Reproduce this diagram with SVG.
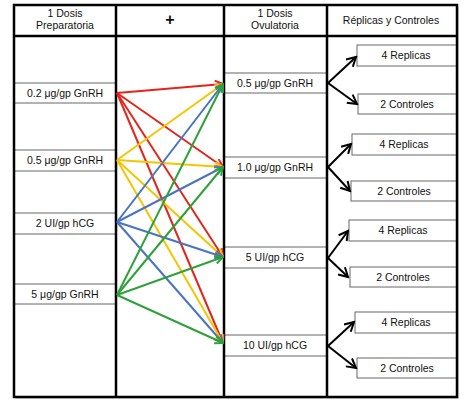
<svg xmlns="http://www.w3.org/2000/svg" width="470" height="406" viewBox="0 0 470 406">
<style>
text{font-family:"Liberation Sans",Arial,sans-serif;font-size:10.5px;fill:#111;text-anchor:middle}
.box{fill:#fff;stroke:#666;stroke-width:1}
.frame{fill:none;stroke:#000;stroke-width:2.5}
.c{fill:none;stroke-width:2}
.k{fill:none;stroke:#000;stroke-width:2}
</style>
<defs>
<marker id="mr" markerWidth="10" markerHeight="10" refX="9" refY="5" orient="auto" markerUnits="userSpaceOnUse"><path d="M1,1 L9,5 L1,9" fill="none" stroke="#e3261c" stroke-width="2"/></marker>
<marker id="my" markerWidth="10" markerHeight="10" refX="9" refY="5" orient="auto" markerUnits="userSpaceOnUse"><path d="M1,1 L9,5 L1,9" fill="none" stroke="#f5c500" stroke-width="2"/></marker>
<marker id="mb" markerWidth="10" markerHeight="10" refX="9" refY="5" orient="auto" markerUnits="userSpaceOnUse"><path d="M1,1 L9,5 L1,9" fill="none" stroke="#4a73c0" stroke-width="2"/></marker>
<marker id="mg" markerWidth="10" markerHeight="10" refX="9" refY="5" orient="auto" markerUnits="userSpaceOnUse"><path d="M1,1 L9,5 L1,9" fill="none" stroke="#2ea23a" stroke-width="2"/></marker>
<marker id="mk" markerWidth="12" markerHeight="12" refX="10" refY="6" orient="auto" markerUnits="userSpaceOnUse"><path d="M1,1 L10,6 L1,11" fill="none" stroke="#000" stroke-width="2"/></marker>
</defs>
<rect x="16" y="7" width="443" height="392" fill="#bbb" opacity="0.5"/>
<rect x="14" y="5" width="443" height="392" fill="#fff"/>

<g id="header">
<text x="65" y="17">1 Dosis</text>
<text x="65" y="29">Preparatoria</text>
<text x="170" y="25" style="font-size:16px;font-weight:bold">+</text>
<text x="275" y="17">1 Dosis</text>
<text x="275" y="29">Ovulatoria</text>
<text x="391" y="24">Réplicas y Controles</text>
</g>

<g id="prep-02"><rect class="box" x="14" y="83" width="102" height="20"/><text x="65" y="97">0.2 μg/gp GnRH</text></g>
<g id="prep-05"><rect class="box" x="14" y="150" width="102" height="21"/><text x="65" y="164">0.5 μg/gp GnRH</text></g>
<g id="prep-2ui"><rect class="box" x="14" y="213" width="102" height="21"/><text x="65" y="227">2 UI/gp hCG</text></g>
<g id="prep-5"><rect class="box" x="14" y="284" width="102" height="20"/><text x="65" y="298">5 μg/gp GnRH</text></g>

<g id="ovu-05"><rect class="box" x="224" y="73" width="103" height="20"/><text x="275" y="87">0.5 μg/gp GnRH</text></g>
<g id="ovu-10"><rect class="box" x="224" y="157" width="103" height="21"/><text x="275" y="171">1.0 μg/gp GnRH</text></g>
<g id="ovu-5ui"><rect class="box" x="224" y="247" width="103" height="21"/><text x="275" y="261">5 UI/gp hCG</text></g>
<g id="ovu-10ui"><rect class="box" x="224" y="335" width="103" height="21"/><text x="275" y="349">10 UI/gp hCG</text></g>

<g id="rep1"><rect class="box" x="357" y="45" width="100" height="21"/><text x="406" y="59">4 Replicas</text></g>
<g id="ctl1"><rect class="box" x="358" y="94" width="99" height="20"/><text x="407" y="108">2 Controles</text></g>
<g id="rep2"><rect class="box" x="352" y="134" width="105" height="21"/><text x="404" y="148">4 Replicas</text></g>
<g id="ctl2"><rect class="box" x="351" y="181" width="106" height="20"/><text x="404" y="195">2 Controles</text></g>
<g id="rep3"><rect class="box" x="349" y="220" width="108" height="21"/><text x="403" y="234">4 Replicas</text></g>
<g id="ctl3"><rect class="box" x="350" y="267" width="107" height="20"/><text x="403" y="281">2 Controles</text></g>
<g id="rep4"><rect class="box" x="355" y="312" width="102" height="21"/><text x="406" y="326">4 Replicas</text></g>
<g id="ctl4"><rect class="box" x="357" y="358" width="100" height="20"/><text x="407" y="372">2 Controles</text></g>

<g id="frame">
<rect class="frame" x="14" y="5" width="443" height="392"/>
<line class="frame" x1="116" y1="5" x2="116" y2="397"/>
<line class="frame" x1="224" y1="5" x2="224" y2="397"/>
<line class="frame" x1="327" y1="5" x2="327" y2="397"/>
<line class="frame" x1="14" y1="36" x2="457" y2="36"/>
</g>

<g id="connectors">
<g stroke="#e3261c" class="c">
<line class="c" stroke="#e3261c" x1="117" y1="93" x2="223" y2="84" marker-end="url(#mr)"/>
<line class="c" stroke="#e3261c" x1="117" y1="93" x2="223" y2="167" marker-end="url(#mr)"/>
<line class="c" stroke="#e3261c" x1="117" y1="93" x2="223" y2="257" marker-end="url(#mr)"/>
<line class="c" stroke="#e3261c" x1="117" y1="93" x2="223" y2="343" marker-end="url(#mr)"/>
</g>
<line class="c" stroke="#f5c500" x1="117" y1="160" x2="223" y2="84" marker-end="url(#my)"/>
<line class="c" stroke="#f5c500" x1="117" y1="160" x2="223" y2="167" marker-end="url(#my)"/>
<line class="c" stroke="#f5c500" x1="117" y1="160" x2="223" y2="257" marker-end="url(#my)"/>
<line class="c" stroke="#f5c500" x1="117" y1="160" x2="223" y2="343" marker-end="url(#my)"/>
<line class="c" stroke="#4a73c0" x1="117" y1="222" x2="223" y2="84" marker-end="url(#mb)"/>
<line class="c" stroke="#4a73c0" x1="117" y1="222" x2="223" y2="167" marker-end="url(#mb)"/>
<line class="c" stroke="#4a73c0" x1="117" y1="222" x2="223" y2="257" marker-end="url(#mb)"/>
<line class="c" stroke="#4a73c0" x1="117" y1="222" x2="223" y2="343" marker-end="url(#mb)"/>
<line class="c" stroke="#2ea23a" x1="117" y1="295" x2="223" y2="84" marker-end="url(#mg)"/>
<line class="c" stroke="#2ea23a" x1="117" y1="295" x2="223" y2="167" marker-end="url(#mg)"/>
<line class="c" stroke="#2ea23a" x1="117" y1="295" x2="223" y2="257" marker-end="url(#mg)"/>
<line class="c" stroke="#2ea23a" x1="117" y1="295" x2="223" y2="343" marker-end="url(#mg)"/>

<line class="k" x1="328" y1="83" x2="356" y2="57" marker-end="url(#mk)"/>
<line class="k" x1="328" y1="83" x2="357" y2="104" marker-end="url(#mk)"/>
<line class="k" x1="328" y1="167" x2="351" y2="144" marker-end="url(#mk)"/>
<line class="k" x1="328" y1="167" x2="350" y2="191" marker-end="url(#mk)"/>
<line class="k" x1="328" y1="258" x2="348" y2="231" marker-end="url(#mk)"/>
<line class="k" x1="328" y1="258" x2="348" y2="277" marker-end="url(#mk)"/>
<line class="k" x1="328" y1="346" x2="354" y2="322" marker-end="url(#mk)"/>
<line class="k" x1="328" y1="346" x2="356" y2="368" marker-end="url(#mk)"/>
</g>
</svg>
